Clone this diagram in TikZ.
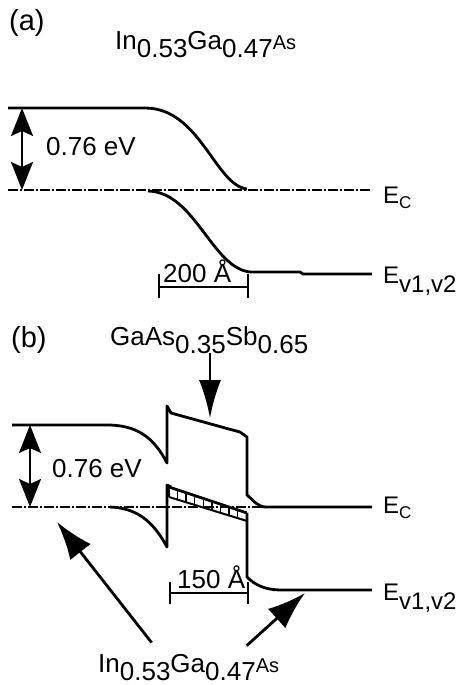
\documentclass[tikz,border=0pt]{standalone}
\usepackage{fontspec}
\setmainfont{Liberation Sans}
\usetikzlibrary{arrows.meta, calc}
\newcommand{\tief}[1]{\raisebox{-8pt}{#1}}
\newcommand{\klein}[1]{{\fontsize{20}{22}\selectfont #1}}

\begin{document}
\begin{tikzpicture}[x=1pt, y=-1pt,
		band/.style={line width=2.8pt, line join=round},
		ecline/.style={line width=2.6pt, dash pattern=on 10pt off 2pt on 2pt off 2pt},
		leiter/.style={line width=1.4pt},
		lbl/.style={inner sep=0pt, anchor=base west, font=\fontsize{26}{30}\selectfont},
		tag/.style={inner sep=0pt, anchor=base west, font=\fontsize{29}{32}\selectfont},
		elbl/.style={inner sep=0pt, anchor=base west, font=\fontsize{24}{28}\selectfont},
		gap/.style={{Stealth[length=28pt,width=22pt,inset=5pt]}-{Stealth[length=28pt,width=22pt,inset=5pt]}, line width=2.2pt},
		zeiger/.style={-{Latex[length=38pt,width=26pt]}, line width=2.8pt},
		zeigerS/.style={-{Latex[length=38pt,width=22pt]}, line width=2.4pt}]
		\useasboundingbox (0,0) rectangle (460,685);
		% Teil (a)
		\node[tag] (tagA) at (9,31) {(a)};
		\node[lbl] (matA) at (115,50) {In\tief{0.53}Ga\tief{0.47}\klein{As}};
		\node[lbl] (gapA) at (46,155) {0.76 eV};
		\node[elbl] (ecA) at (383,203) {E\raisebox{-5pt}{\fontsize{17}{20}\selectfont C}};
		\node[elbl] (evA) at (383,283) {E\raisebox{-9pt}{v1,v2}};
		\node[lbl] (lenA) at (163,282) {200 Å};
		\draw[ecline] (8,190) -- (372,190);
		\draw[band] (8,108) -- (145,108) .. controls (200,108) and (215,185) .. (247,189);
		\draw[band] (148,191) .. controls (195,192) and (212,268) .. (250,272) -- (300,272) -- (303,274) -- (372,274);
		\coordinate (obenA) at (22,108);
		\coordinate (untenA) at (22,190);
		\draw[gap] (obenA) -- (untenA);
		\draw[band] (159,287) -- (248,287) (159,274) -- (159,298) (248,274) -- (248,298);
		% Teil (b)
		\node[tag] (tagB) at (11,347) {(b)};
		\node[lbl] (matB) at (110,345) {GaAs\tief{0.35}Sb\tief{0.65}};
		\node[lbl] (gapB) at (52,477) {0.76 eV};
		\node[elbl] (ecB) at (383,513) {E\raisebox{-5pt}{\fontsize{17}{20}\selectfont C}};
		\node[elbl] (evB) at (383,600) {E\raisebox{-9pt}{v1,v2}};
		\node[lbl] (lenB) at (177,588) {150 Å};
		\node[lbl] (matC) at (98,672) {In\tief{0.53}Ga\tief{0.47}\klein{As}};
		\draw[ecline] (12,507) -- (372,507);
		\draw[band] (12,425) -- (110,425) .. controls (140,426) and (155,440) .. (167,463) -- (167,406) -- (171,413)
			.. controls (200,421) and (225,428) .. (240,432) -- (247,437) -- (247,495)
			.. controls (254,501) and (258,507) .. (266,507) -- (372,507);
		\draw[band] (110,507) .. controls (140,508) and (155,525) .. (167,547) -- (167,485) -- (171,487);
		% Leiter im Valenzband
		\coordinate (o1) at (169,487);
		\coordinate (o2) at (247,513);
		\coordinate (u1) at (169,497);
		\coordinate (u2) at (247,521);
		\draw[band] (o1) -- (o2);
		\draw[leiter, line width=2pt] (u1) -- (u2);
		\foreach \t in {0,0.11,...,1} \draw[leiter] ($(o1)!\t!(o2)$) -- ($(u1)!\t!(u2)$);
		\draw[band] (247,513) -- (247,577) .. controls (255,585) and (265,590) .. (282,590) -- (372,590);
		\coordinate (obenB) at (30,425);
		\coordinate (untenB) at (30,507);
		\draw[gap] (obenB) -- (untenB);
		\draw[band] (170,593) -- (248,593) (170,582) -- (170,604) (248,582) -- (248,604);
		% Pfeile
		\coordinate (spitzeB) at (210,418);
		\coordinate (spitzeL) at (57,522);
		\coordinate (spitzeR) at (305,593);
		\draw[zeigerS] (matB.south -| spitzeB) -- (spitzeB);
		\draw[zeiger] ([xshift=-37pt,yshift=11pt]matC.north) -- (spitzeL);
		\draw[zeiger] ([xshift=58pt,yshift=8pt]matC.north) -- (spitzeR);
	\end{tikzpicture}
\end{document}
